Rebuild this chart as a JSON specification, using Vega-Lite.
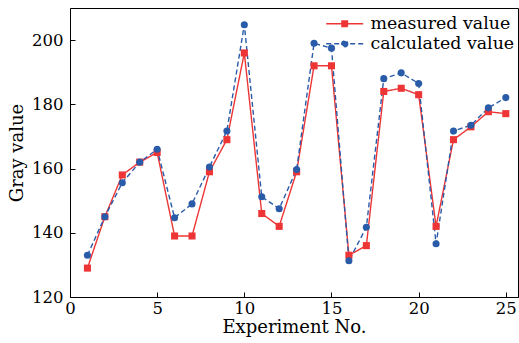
{
  "$schema": "https://vega.github.io/schema/vega-lite/v6.json",
  "autosize": {"type": "none"},
  "padding": {"left": 70, "top": 8, "right": 1, "bottom": 46},
  "width": 448,
  "height": 289,
  "background": "white",
  "config": {
    "view": {"stroke": "black", "strokeWidth": 1},
    "font": "DejaVu Serif",
    "axis": {
      "domainColor": "black",
      "tickColor": "black",
      "labelColor": "black",
      "titleColor": "black",
      "labelFont": "DejaVu Serif",
      "titleFont": "DejaVu Serif",
      "labelFontSize": 16.5,
      "titleFontSize": 18,
      "titleFontWeight": "normal",
      "grid": false,
      "tickSize": -5
    }
  },
  "data": {
    "values": [
      {"no": 1, "series": "measured value", "value": 129},
      {"no": 2, "series": "measured value", "value": 145},
      {"no": 3, "series": "measured value", "value": 158},
      {"no": 4, "series": "measured value", "value": 162},
      {"no": 5, "series": "measured value", "value": 165},
      {"no": 6, "series": "measured value", "value": 139},
      {"no": 7, "series": "measured value", "value": 139},
      {"no": 8, "series": "measured value", "value": 159},
      {"no": 9, "series": "measured value", "value": 169},
      {"no": 10, "series": "measured value", "value": 196},
      {"no": 11, "series": "measured value", "value": 146},
      {"no": 12, "series": "measured value", "value": 142},
      {"no": 13, "series": "measured value", "value": 159},
      {"no": 14, "series": "measured value", "value": 192},
      {"no": 15, "series": "measured value", "value": 192},
      {"no": 16, "series": "measured value", "value": 133},
      {"no": 17, "series": "measured value", "value": 136},
      {"no": 18, "series": "measured value", "value": 184},
      {"no": 19, "series": "measured value", "value": 185},
      {"no": 20, "series": "measured value", "value": 183},
      {"no": 21, "series": "measured value", "value": 142},
      {"no": 22, "series": "measured value", "value": 169},
      {"no": 23, "series": "measured value", "value": 173},
      {"no": 24, "series": "measured value", "value": 177.7},
      {"no": 25, "series": "measured value", "value": 177.1},
      {"no": 1, "series": "calculated value", "value": 133},
      {"no": 2, "series": "calculated value", "value": 145},
      {"no": 3, "series": "calculated value", "value": 155.6},
      {"no": 4, "series": "calculated value", "value": 162},
      {"no": 5, "series": "calculated value", "value": 166},
      {"no": 6, "series": "calculated value", "value": 144.7},
      {"no": 7, "series": "calculated value", "value": 149},
      {"no": 8, "series": "calculated value", "value": 160.5},
      {"no": 9, "series": "calculated value", "value": 171.7},
      {"no": 10, "series": "calculated value", "value": 204.8},
      {"no": 11, "series": "calculated value", "value": 151.2},
      {"no": 12, "series": "calculated value", "value": 147.5},
      {"no": 13, "series": "calculated value", "value": 159.7},
      {"no": 14, "series": "calculated value", "value": 199},
      {"no": 15, "series": "calculated value", "value": 197.5},
      {"no": 16, "series": "calculated value", "value": 131.3},
      {"no": 17, "series": "calculated value", "value": 141.7},
      {"no": 18, "series": "calculated value", "value": 188},
      {"no": 19, "series": "calculated value", "value": 189.8},
      {"no": 20, "series": "calculated value", "value": 186.5},
      {"no": 21, "series": "calculated value", "value": 136.6},
      {"no": 22, "series": "calculated value", "value": 171.7},
      {"no": 23, "series": "calculated value", "value": 173.5},
      {"no": 24, "series": "calculated value", "value": 178.9},
      {"no": 25, "series": "calculated value", "value": 182.1}
    ]
  },
  "encoding": {
    "x": {
      "field": "no", "type": "quantitative",
      "scale": {"domain": [0, 25.7], "nice": false, "zero": false},
      "axis": {"values": [0, 5, 10, 15, 20, 25], "title": "Experiment No.", "labelPadding": 8, "titlePadding": 2, "labelFlush": false}
    },
    "y": {
      "field": "value", "type": "quantitative",
      "scale": {"domain": [120, 210], "nice": false, "zero": false},
      "axis": {"values": [120, 140, 160, 180, 200], "title": "Gray value", "labelPadding": 12, "titlePadding": 5}
    },
    "color": {
      "field": "series", "type": "nominal",
      "scale": {"domain": ["measured value", "calculated value"], "range": ["#ee3535", "#2a5ba8"]},
      "legend": {
        "title": null,
        "orient": "none",
        "legendX": 266,
        "legendY": 7,
        "padding": 0,
        "labelFont": "DejaVu Serif",
        "labelFontSize": 17.4,
        "labelColor": "black",
        "symbolSize": 100,
        "labelOffset": 17,
        "rowPadding": 1,
        "symbolStrokeWidth": 1.4,
        "encode": {
          "symbols": {
            "update": {
              "shape": {"signal": "datum.value === 'measured value' ? 'M-3.7,0H3.7M-0.55,-0.55H0.55V0.55H-0.55Z' : 'M-3.7,0H3.7M0.6,0A0.6,0.6 0 1,1 -0.6,0A0.6,0.6 0 1,1 0.6,0Z'"},
              "fill": {"signal": "datum.value === 'measured value' ? '#ee3535' : '#2a5ba8'"},
              "stroke": {"signal": "datum.value === 'measured value' ? '#ee3535' : '#2a5ba8'"},
              "strokeDash": {"signal": "datum.value === 'measured value' ? [1,0] : [5,3]"},
              "opacity": {"value": 1}
            }
          }
        }
      }
    }
  },
  "layer": [
    {
      "mark": {"type": "line", "strokeWidth": 1.4},
      "encoding": {
        "strokeDash": {
          "field": "series", "type": "nominal",
          "scale": {"domain": ["measured value", "calculated value"], "range": [[1, 0], [5, 3]]}
        },
        "detail": {"field": "series"}
      }
    },
    {
      "transform": [{"filter": "datum.series === 'measured value'"}],
      "mark": {"type": "point", "shape": "square", "filled": true, "opacity": 1, "size": 50}
    },
    {
      "transform": [{"filter": "datum.series === 'calculated value'"}],
      "mark": {"type": "point", "shape": "circle", "filled": true, "opacity": 1, "size": 50}
    }
  ]
}
